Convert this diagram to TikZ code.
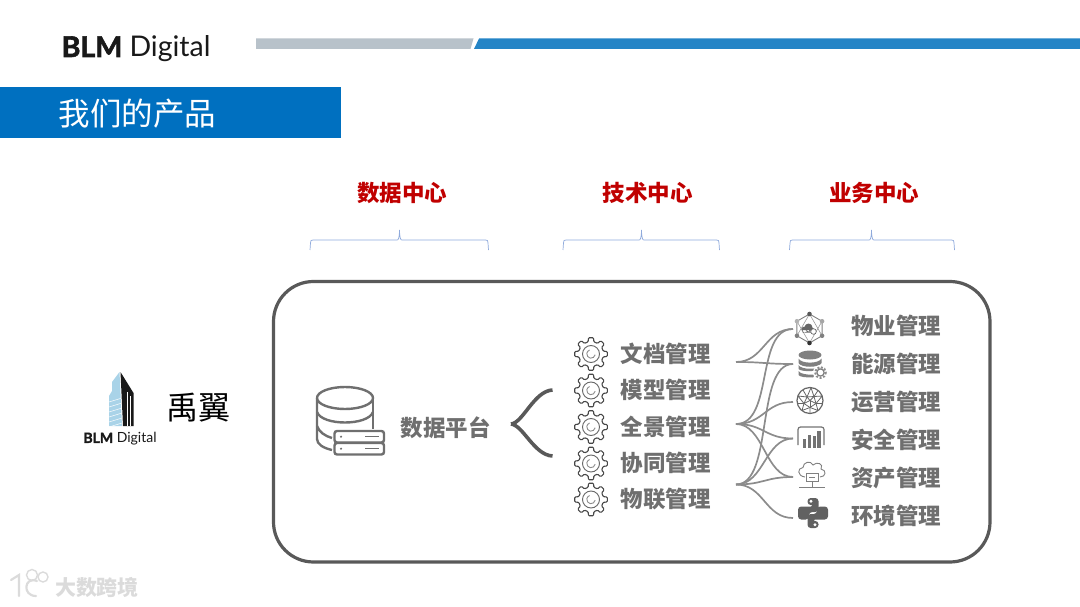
\documentclass[tikz,border=0pt]{standalone}
\usepackage{fontspec}
\setmainfont{Noto Sans CJK SC}
\newfontfamily\latinlogo[BoldFeatures={FakeBold=2.2}]{Lato}
\definecolor{slate}{HTML}{6F6F6F}
\definecolor{frameg}{HTML}{595959}
\definecolor{barg}{HTML}{B8C2CA}
\definecolor{barb}{HTML}{2484C6}
\definecolor{titleb}{HTML}{0070C0}
\definecolor{headred}{HTML}{C00000}
\definecolor{bracecol}{HTML}{8FAADC}
\definecolor{linkg}{HTML}{8C8C8C}
\definecolor{towerblue}{HTML}{A9D3E8}
\newcommand{\fsz}[1]{\fontsize{#1}{#1}\selectfont}
\tikzset{
  x=1pt,y=-1pt,
  lbl/.style={inner sep=0pt,text=slate,font=\fsz{22.5}\bfseries},
  head/.style={inner sep=0pt,text=headred,font=\fsz{22.5}\bfseries},
  bracepath/.style={draw=bracecol,line width=0.7pt},
  link/.style={draw=linkg,line width=1.7pt},
  pics/gearicon/.style={code={
    \draw[draw=black!72,line width=1.1pt,rounded corners=1pt,fill=white]
      (-22.5:12.5) \foreach \a in {0,45,...,315} { -- (\a-13:12.5) -- (\a-9:16.5) -- (\a+9:16.5) -- (\a+13:12.5) } -- cycle;
    \draw[draw=black!60,line width=0.9pt] (0,0) circle[radius=8.5];
    \draw[draw=black!45,line width=0.9pt] (10:4.2) arc[start angle=10,end angle=250,radius=4.2];
  }},
  pics/pytail/.style={code={
    \fill[rounded corners=3.2pt] (-5.5,-15) -- (5.5,-15) -- (5.5,-1) -- (-4,-1) -- (-4,6.5) -- (-15,6.5) -- (-15,-6.5) -- (1,-6.5) -- (1,-8) -- (-5.5,-8) -- cycle;
    \fill[white] (-2,-11.7) circle[radius=1.6];
  }}
}
\newcommand{\sconn}[3]{\draw[link] (#1) .. controls +(#3,0) and +(-#3,0) .. (#2);}
\begin{document}
\begin{tikzpicture}
\useasboundingbox (0,0) rectangle (1080,607);
% top bars
\fill[barg] (256,38.5) -- (473.5,38.5) -- (470.5,49) -- (256,49) -- cycle;
\fill[barb] (479,38.5) -- (1080,38.5) -- (1080,49) -- (474,49) -- cycle;
% top logo
\node[inner sep=0pt,anchor=base west,text=black!90] (toplogo) at (61.5,57) {\fsz{28.5}\latinlogo{\textbf{BLM} Digital}};
% title
\node[fill=titleb,minimum width=341pt,minimum height=51pt,inner sep=0pt,anchor=north west] (titlebox) at (0,87) {};
\node[inner sep=0pt,text=white,font=\fsz{31.5}] (titletext) at (137.5,113.5) {我们的产品};
% headers
\node[head] (h1) at (402,193) {数据中心};
\node[head] (h2) at (647.5,193) {技术中心};
\node[head] (h3) at (874,193) {业务中心};
% braces
\draw[bracepath] (310,250) -- (310.5,243) .. controls (310.5,240.5) and (311,240) .. (313,240) -- (397,240) .. controls (398.5,240) and (399.3,238) .. (399.5,230) .. controls (399.7,238) and (400.5,240) .. (402,240) -- (485.5,240) .. controls (487.5,240) and (488,240.5) .. (488,243) -- (488.5,250);
\draw[bracepath] (563,250) -- (563.5,243) .. controls (563.5,240.5) and (564,240) .. (566,240) -- (639,240) .. controls (640.5,240) and (641.3,238) .. (641.5,230) .. controls (641.7,238) and (642.5,240) .. (644,240) -- (716.5,240) .. controls (718.5,240) and (719,240.5) .. (719,243) -- (719.5,250);
\draw[bracepath] (789.5,250) -- (790,243) .. controls (790,240.5) and (790.5,240) .. (792.5,240) -- (869,240) .. controls (870.5,240) and (871.3,238) .. (871.5,230) .. controls (871.7,238) and (872.5,240) .. (874,240) -- (951.5,240) .. controls (953.5,240) and (954,240.5) .. (954,243) -- (954.5,250);
% frame
\draw[frameg,line width=3.2pt,rounded corners=40pt] (273.5,281.5) rectangle (990,562);
% left logo
\fill[towerblue] (109,426) -- (109,396) -- (112,391) -- (112,382) -- (119.5,372) -- (122,426) -- cycle;
\foreach \yy in {398,403,...,423} { \draw[white,line width=0.5pt] (109,\yy+4) -- (122,\yy); }
\fill[black!90] (120.5,372) -- (133.5,393) -- (133.5,426) -- (123,426) -- cycle;
\draw[white,line width=0.8pt] (127,392) -- (127,426) (130.5,396) -- (130.5,426);
\node[inner sep=0pt,text=black!90] (leftlogo) at (120,439) {\fsz{14}\latinlogo{\textbf{BLM} Digital}};
\node[inner sep=0pt,text=black,font=\fsz{32}] (yuyi) at (198,408) {禹翼};
% database icon
\begin{scope}[draw=slate,line width=2.4pt]
\draw (317,398) arc[x radius=28,y radius=11,start angle=180,end angle=-180];
\draw (317,398) -- (317,439) .. controls (317,444) and (323,448) .. (332,450);
\draw (373,398) -- (373,429);
\draw (317,412) .. controls (322,426) and (368,426) .. (373,412);
\draw (317,426) .. controls (319,432) and (325,436) .. (332,438);
\draw[rounded corners=2.5pt] (334.5,431) rectangle (384,442.5);
\draw[rounded corners=2.5pt] (334.5,443) rectangle (384,454.5);
\draw[line width=1.5pt] (365,436.7) -- (379,436.7) (365,448.7) -- (379,448.7);
\fill[slate] (341,436.7) circle[radius=1.2] (341,448.7) circle[radius=1.2];
\end{scope}
\node[lbl] (dp) at (445.5,428) {数据平台};
% fork
\coordinate (forkt) at (511,424);
\coordinate (forka) at (552.5,390);
\coordinate (forkb) at (552.5,456);
\draw[frameg,line width=3.6pt] (forkt) .. controls (523,423) and (534,391) .. (forka);
\draw[frameg,line width=3.6pt] (forkt) .. controls (523,425) and (534,455) .. (forkb);
% gears + labels
\pic at (591,354) {gearicon};
\pic at (591,390.5) {gearicon};
\pic at (591,427) {gearicon};
\pic at (591,463.5) {gearicon};
\pic at (591,499.5) {gearicon};
\node[lbl] (m1) at (665.5,354) {文档管理};
\node[lbl] (m2) at (665.5,390) {模型管理};
\node[lbl] (m3) at (665.5,427) {全景管理};
\node[lbl] (m4) at (665.5,463) {协同管理};
\node[lbl] (m5) at (665.5,499) {物联管理};
% right labels
\node[lbl] (r1) at (896,326) {物业管理};
\node[lbl] (r2) at (896,364) {能源管理};
\node[lbl] (r3) at (896,402) {运营管理};
\node[lbl] (r4) at (896,440) {安全管理};
\node[lbl] (r5) at (896,478) {资产管理};
\node[lbl] (r6) at (896,516) {环境管理};
% connectors
\coordinate (s1) at (736,362);
\coordinate (s2) at (736,424);
\coordinate (s3) at (736,484.5);
\coordinate (t1) at (793,329);
\coordinate (t2) at (793,364);
\coordinate (t3) at (793,402);
\coordinate (t4) at (793,438.5);
\coordinate (t5) at (793,477);
\coordinate (t6) at (793,518);
\sconn{s1}{t1}{28}
\sconn{s1}{t2}{28}
\sconn{s2}{t1}{38}
\sconn{s2}{t3}{28}
\sconn{s2}{t4}{28}
\sconn{s2}{t5}{28}
\sconn{s3}{t2}{38}
\sconn{s3}{t4}{28}
\sconn{s3}{t5}{28}
\sconn{s3}{t6}{28}
% network icon
\begin{scope}[shift={(809.5,328.5)}]
\draw[black!50,line width=0.9pt] (90:14.5) -- (30:14.5) -- (-30:14.5) -- (-90:14.5) -- (-150:14.5) -- (150:14.5) -- cycle;
\draw[black!40,line width=0.6pt] (90:14.5) -- (-30:14.5) (90:14.5) -- (-150:14.5) (-90:14.5) -- (30:14.5) (-90:14.5) -- (150:14.5);
\fill[black!65] (-90:14.5) circle[radius=2.3];
\fill[black!35] (-30:14.5) circle[radius=2.3];
\fill[black!50] (30:14.5) circle[radius=2.3];
\fill[black!80] (90:14.5) circle[radius=2.3];
\fill[black!50] (150:14.5) circle[radius=2.3];
\fill[black!30] (-150:14.5) circle[radius=2.3];
\fill[black!60] (-5,1) circle[radius=3] (-1,-1) circle[radius=4] (2,1.5) circle[radius=2.5] (-7,1.5) rectangle (3,4);
\draw[black!60,fill=white,line width=0.7pt] (4,3) circle[radius=2.8];
\end{scope}
% db + gear icon
\begin{scope}[shift={(810,364)}]
\fill[black!50] (0,-9) ellipse[x radius=11.5,y radius=4.5];
\fill[black!50] (-11.5,-5.5) .. controls (-9,0) and (9,0) .. (11.5,-5.5) -- (11.5,-1) .. controls (9,4) and (-9,4) .. (-11.5,-1) -- cycle;
\fill[black!50] (-11.5,1) .. controls (-9,6) and (9,6) .. (11.5,1) -- (11.5,4) .. controls (9,8) and (-9,8) .. (-11.5,5) -- cycle;
\fill[black!50] (-11.5,7) .. controls (-9,11) and (3,11) .. (5,10.5) -- (3,13.5) .. controls (-5,13.5) and (-10,13) .. (-11.5,11) -- cycle;
\end{scope}
\begin{scope}[shift={(820.5,372.5)}]
\fill[white] (0,0) circle[radius=7.5];
\draw[black!45,line width=2pt,dash pattern=on 2pt off 1.6pt] (0,0) circle[radius=5.4];
\draw[black!50,line width=1.2pt] (0,0) circle[radius=3.6];
\end{scope}
% sphere icon
\begin{scope}[shift={(810,400.5)},draw=black!60,line width=0.8pt]
\draw[line width=1.2pt] (0,0) circle[radius=13];
\draw (-3,-3.5) -- (4,-4) -- (6,3) -- (0,7) -- (-6,3) -- cycle;
\foreach \a/\b in {-3/-3.5,4/-4,6/3,0/7,-6/3} { \draw (\a,\b) -- (0,0); }
\draw (-3,-3.5) -- (-7,-10.5) (4,-4) -- (8,-10) (6,3) -- (12.5,3) (0,7) -- (0,13) (-6,3) -- (-12.5,3);
\draw (-3,-3.5) -- (-12,-4.5) (4,-4) -- (12.2,-4.5) (6,3) -- (8,10) (-6,3) -- (-8,10) (-3,-3.5) -- (1,-12.8) (4,-4) -- (1,-12.8) (0,7) -- (8,10) (0,7) -- (-8,10) (-6,3) -- (-12,-4.5) (6,3) -- (12.2,-4.5);
\end{scope}
% chart icon
\begin{scope}[black!55]
\draw[line width=1.2pt,rounded corners=2.5pt] (798,445) -- (798,427) -- (824,427) -- (824,445);
\fill (803,438.5) rectangle (806.3,448);
\fill (807.8,434.5) rectangle (811.1,448);
\fill (812.6,436) rectangle (815.9,448);
\fill (817.4,431) rectangle (820.7,448);
\end{scope}
% cloud computer icon
\begin{scope}[black!50]
\draw[line width=0.9pt] (805,477) .. controls (797,476) and (797,468) .. (803,467.5) .. controls (803,462) and (811,460) .. (813,465) .. controls (817,461) and (824,464) .. (821,469) .. controls (827,470) and (826,477) .. (820,477);
\draw[fill=white,line width=0.9pt] (806,473) rectangle (818,481.5);
\draw[line width=0.8pt] (809,477.5) -- (815,477.5);
\draw[line width=0.9pt] (812,481.5) -- (812,487) (799,487.5) -- (825,487.5);
\end{scope}
% python icon
\begin{scope}[black!62,shift={(813,513)}]
\pic {pytail};
\pic[rotate=180] {pytail};
\end{scope}
% watermark
\begin{scope}[draw=black!14,line width=2.2pt,line cap=round]
\draw (11,580) -- (19,575) -- (19,596);
\draw (37,581) .. controls (24,576) and (22,596) .. (36,596);
\draw[line width=1.4pt] (32,575) circle[radius=5.5];
\draw[line width=1.4pt] (43,577) circle[radius=5];
\end{scope}
\node[inner sep=0pt,text=black!14,font=\fsz{21}\bfseries] (wm) at (97,587) {大数跨境};
\end{tikzpicture}
\end{document}
